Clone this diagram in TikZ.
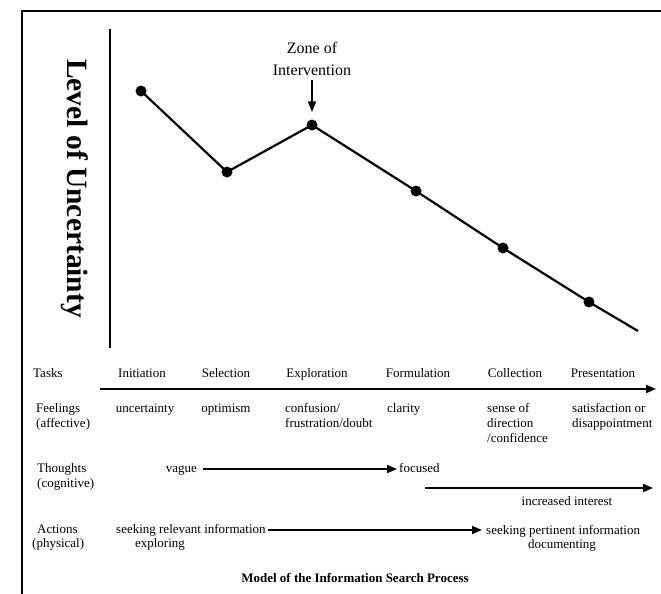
\documentclass[tikz,border=0pt]{standalone}
\usepackage{fontspec}
\setmainfont{Liberation Serif}
\usetikzlibrary{arrows.meta}
\begin{document}
\begin{tikzpicture}[x=1pt,y=-1pt,
  lbl/.style={inner sep=0pt, anchor=base, font=\fontsize{13}{15}\selectfont},
  lblw/.style={lbl, anchor=base west},
  lble/.style={lbl, anchor=base east},
  zonelbl/.style={inner sep=0pt, anchor=base, font=\fontsize{16}{18}\selectfont},
  titlelbl/.style={inner sep=0pt, anchor=base, rotate=-90, font=\bfseries\fontsize{29.5}{30}\selectfont},
  caption/.style={inner sep=0pt, anchor=base, font=\bfseries\fontsize{13}{15}\selectfont},
  frameline/.style={line width=2pt},
  axisline/.style={line width=1.3pt},
  curve/.style={line width=2.2pt, line join=round},
  dot/.style={circle, fill=black, inner sep=0pt, minimum size=11pt},
  flow/.style={line width=1.8pt, -{Triangle[length=10pt,width=8pt]}},
  zonearrow/.style={line width=1.8pt, -{Triangle[length=11pt,width=8pt]}},
]
\useasboundingbox (0,0) rectangle (661,594);
\fill[white] (0,0) rectangle (661,594);

% frame and axis
\draw[frameline] (22,594) -- (22,11) -- (661,11);
\draw[axisline] (110,29) -- (110,348);
\node[titlelbl] (ytitle) at (67,188.5) {Level of Uncertainty};

% uncertainty curve
\node[dot] (d1) at (141,91) {};
\node[dot] (d2) at (227,172) {};
\node[dot] (d3) at (312,125) {};
\node[dot] (d4) at (416,191) {};
\node[dot] (d5) at (503,248) {};
\node[dot] (d6) at (589,302) {};
\coordinate (dend) at (638,331);
\draw[curve] (d1.center) -- (d2.center) -- (d3.center) -- (d4.center) -- (d5.center) -- (d6.center) -- (dend);

% zone of intervention
\node[zonelbl] (zone1) at (312,54) {Zone of};
\node[zonelbl] (zone2) at (312,75) {Intervention};
\draw[zonearrow, shorten <=5pt, shorten >=7pt] (zone2.south) -- (d3.north);

% tasks row
\node[lblw] (tasks) at (33,377) {Tasks};
\node[lbl] (t1) at (142,377) {Initiation};
\node[lbl] (t2) at (226,377) {Selection};
\node[lbl] (t3) at (317,377) {Exploration};
\node[lbl] (t4) at (418,377) {Formulation};
\node[lbl] (t5) at (515,377) {Collection};
\node[lbl] (t6) at (603,377) {Presentation};
\coordinate (tstart) at (100,389);
\coordinate (tend) at (656,389);
\draw[flow] (tstart) -- (tend);

% feelings row
\node[lblw] (feel1) at (36,412) {Feelings};
\node[lblw] (feel2) at (36,427) {(affective)};
\node[lbl] (f1) at (145,412) {uncertainty};
\node[lbl] (f2) at (226,412) {optimism};
\node[lblw] (f3a) at (285,412) {confusion/};
\node[lblw] (f3b) at (285,427) {frustration/doubt};
\node[lblw] (f4) at (387,412) {clarity};
\node[lblw] (f5a) at (487,412) {sense of};
\node[lblw] (f5b) at (487,427) {direction};
\node[lblw] (f5c) at (487,442) {/confidence};
\node[lblw] (f6a) at (572,412) {satisfaction or};
\node[lblw] (f6b) at (572,427) {disappointment};

% thoughts row
\node[lblw] (th1) at (37,472) {Thoughts};
\node[lblw] (th2) at (37,487) {(cognitive)};
\node[lble] (vague) at (197,472) {vague};
\node[lblw] (focused) at (399,472) {focused};
\coordinate (vstart) at (203,469);
\coordinate (vend) at (397,469);
\draw[flow] (vstart) -- (vend);
\coordinate (istart) at (425,488);
\coordinate (iend) at (653,488);
\draw[flow] (istart) -- (iend);
\node[lbl] (interest) at (567,505) {increased interest};

% actions row
\node[lblw] (ac1) at (37,533) {Actions};
\node[lblw] (ac2) at (32,547) {(physical)};
\node[lblw] (a1) at (116,533) {seeking relevant information};
\node[lbl] (a2) at (160,547) {exploring};
\coordinate (astart) at (268,530);
\coordinate (aend) at (482,530);
\draw[flow] (astart) -- (aend);
\node[lblw] (a3) at (486,534) {seeking pertinent information};
\node[lbl] (a4) at (562,548) {documenting};

% caption
\node[caption] (cap) at (355,582) {Model of the Information Search Process};
\end{tikzpicture}
\end{document}
